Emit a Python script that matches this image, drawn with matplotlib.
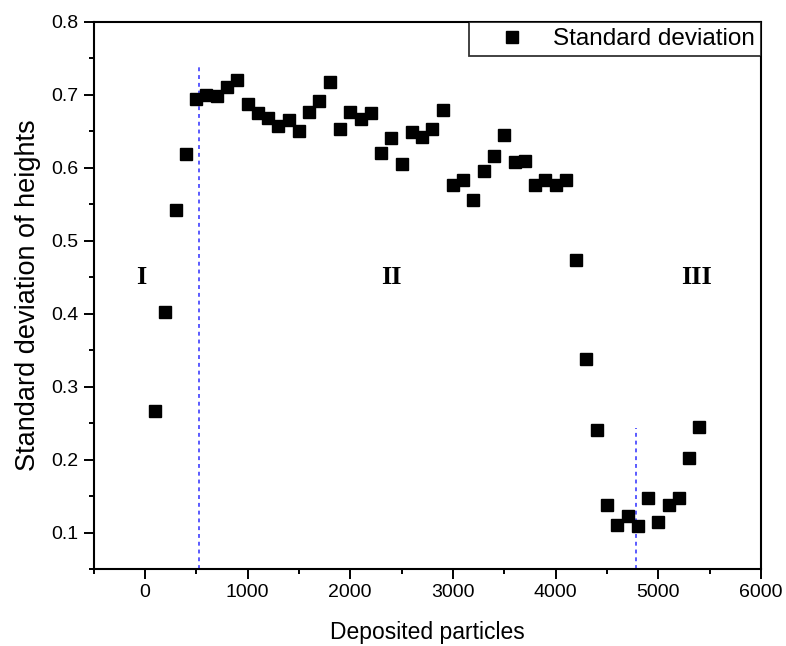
import matplotlib
matplotlib.use("Agg")
import matplotlib.pyplot as plt
from matplotlib.ticker import MultipleLocator

plt.rcParams['font.family'] = ['Liberation Sans', 'DejaVu Sans']

particles = [100, 200, 300, 400, 500, 600, 700, 800, 900, 1000,
             1100, 1200, 1300, 1400, 1500, 1600, 1700, 1800, 1900, 2000,
             2100, 2200, 2300, 2400, 2500, 2600, 2700, 2800, 2900, 3000,
             3100, 3200, 3300, 3400, 3500, 3600, 3700, 3800, 3900, 4000,
             4100, 4200, 4300, 4400, 4500, 4600, 4700, 4800, 4900, 5000,
             5100, 5200, 5300, 5400]
std_dev = [0.267, 0.402, 0.542, 0.619, 0.695, 0.700, 0.698, 0.711, 0.721, 0.687,
           0.675, 0.668, 0.657, 0.665, 0.650, 0.677, 0.691, 0.718, 0.653, 0.676,
           0.667, 0.675, 0.620, 0.641, 0.605, 0.649, 0.643, 0.653, 0.680, 0.577,
           0.584, 0.556, 0.596, 0.616, 0.645, 0.608, 0.610, 0.577, 0.584, 0.577,
           0.583, 0.474, 0.338, 0.240, 0.138, 0.111, 0.123, 0.109, 0.148, 0.114,
           0.138, 0.148, 0.202, 0.245]
boundaries = [525, 4780]
boundary_tops = [0.741, 0.243]
regions = ['I', 'II', 'III']
region_x = [-32, 2400, 5370]
region_y = 0.449

fig = plt.figure(figsize=(7.86, 6.46), dpi=100)
ax = fig.add_axes([93.5/786, 1 - 569/646, (761-93.5)/786, (569-22)/646])

ax.plot(particles, std_dev, 's', color='black', markersize=8.3, linestyle='none',
        label='Standard deviation', zorder=3)

for bx, top in zip(boundaries, boundary_tops):
    ax.plot([bx, bx], [0.05, top], linestyle=(0, (2.0, 2.0)), color='#5a5aff',
            linewidth=1.4, zorder=2)

for txt, rx in zip(regions, region_x):
    ax.text(rx, region_y, txt, fontsize=19, fontweight='bold',
            family=['Liberation Serif', 'DejaVu Serif'], ha='center', va='center')

ax.set_xlim(-500, 6000)
ax.set_ylim(0.05, 0.8)
ax.xaxis.set_major_locator(MultipleLocator(1000))
ax.xaxis.set_minor_locator(MultipleLocator(500))
ax.yaxis.set_major_locator(MultipleLocator(0.1))
ax.yaxis.set_minor_locator(MultipleLocator(0.05))
ax.tick_params(which='both', direction='out', top=False, right=False, labelsize=14, width=1.4)
ax.tick_params(which='major', length=7, pad=4)
ax.tick_params(which='minor', length=3.8)
for s in ax.spines.values():
    s.set_linewidth(1.5)

ax.set_xlabel('Deposited particles', fontsize=16.5, labelpad=14)
ax.set_ylabel('Standard deviation of heights', fontsize=19.5, labelpad=7)

leg = ax.legend(loc='upper right', fontsize=17.5, frameon=True, fancybox=False,
                edgecolor='black', borderaxespad=0.0, borderpad=0.25,
                handlelength=3.0, handletextpad=0.2)
leg.get_frame().set_linewidth(1.3)

fig.savefig('out.png', dpi=100)
